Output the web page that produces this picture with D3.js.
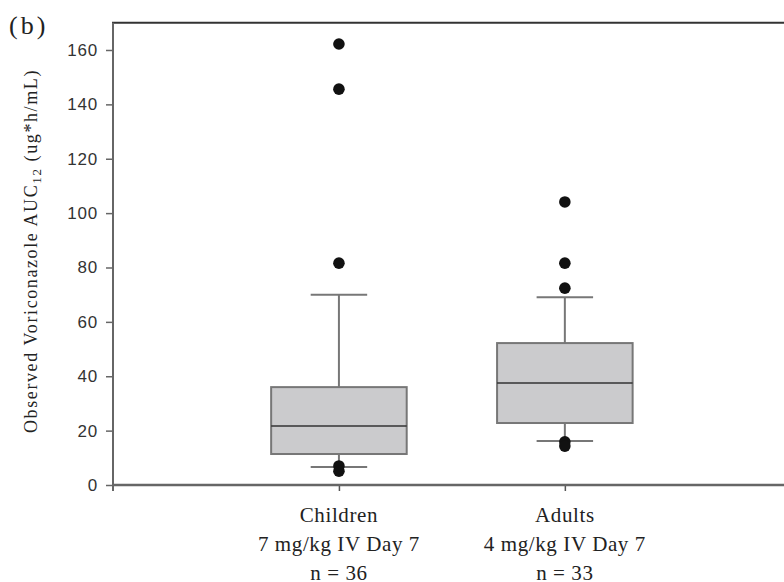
<!DOCTYPE html>
<html>
<head>
<meta charset="utf-8">
<script src="https://cdn.jsdelivr.net/npm/d3@7"></script>
<style>
  body { margin: 0; background: #fff; }
</style>
</head>
<body>
<div id="chart"></div>
<script>
// data
var groups = ["Children", "Adults"];
var groupLines = [
  ["Children", "7 mg/kg IV Day 7", "n = 36"],
  ["Adults", "4 mg/kg IV Day 7", "n = 33"]
];
var q1 = [11.4, 22.8];
var medians = [21.7, 37.5];
var q3 = [36.0, 52.2];
var whiskerLow = [6.6, 16.2];
var whiskerHigh = [70.0, 69.1];
var outliersChildren = [162.2, 145.6, 81.6, 7.0, 5.1];
var outliersAdults = [104.1, 81.6, 72.4, 15.9, 14.3];
var yTicks = [0, 20, 40, 60, 80, 100, 120, 140, 160];

var width = 784, height = 582;
var serif = "'Liberation Serif', 'DejaVu Serif', serif";
var sans = "'Liberation Sans', Arial, sans-serif";

var svg = d3.select("#chart")
  .append("svg")
    .attr("width", width)
    .attr("height", height);

// scales
var x = d3.scaleLinear().domain([0, 2.97]).range([113, 784]);
var y = d3.scaleLinear().domain([0, 170]).range([485, 22.8]);

var boxW = 0.6, capW = 0.125;

// ---- axes ----
// top border
svg.append("line")
  .attr("x1", 112).attr("x2", 784)
  .attr("y1", y(170)).attr("y2", y(170))
  .attr("stroke", "#333").attr("stroke-width", 2);

// left axis
var yAxis = svg.append("g")
  .attr("transform", "translate(113,0)")
  .call(d3.axisLeft(y).tickValues(yTicks).tickSize(7).tickPadding(8).tickSizeOuter(0));
yAxis.select(".domain").remove();
yAxis.append("line")
  .attr("x1", 0).attr("x2", 0)
  .attr("y1", y(170)).attr("y2", 491)
  .attr("stroke", "#666").attr("stroke-width", 2);
yAxis.selectAll(".tick line").attr("stroke", "#666").attr("stroke-width", 1.5);
yAxis.selectAll(".tick text")
  .attr("font-family", sans)
  .attr("font-size", 17)
  .attr("letter-spacing", 0.8)
  .attr("fill", "#333");

// bottom axis
var xAxis = svg.append("g")
  .attr("transform", "translate(0," + y(0) + ")")
  .call(d3.axisBottom(x).tickValues([1, 2]).tickSize(6).tickFormat("").tickSizeOuter(0));
xAxis.select(".domain").remove();
xAxis.append("line")
  .attr("x1", 113).attr("x2", 784)
  .attr("y1", 0).attr("y2", 0)
  .attr("stroke", "#666").attr("stroke-width", 2.5);
xAxis.selectAll(".tick line").attr("stroke", "#555").attr("stroke-width", 1.5);

// category labels
groupLines.forEach(function(lines, i) {
  var t = svg.append("text")
    .attr("x", x(i + 1))
    .attr("y", 522)
    .attr("text-anchor", "middle")
    .attr("font-family", serif)
    .attr("font-size", 21)
    .attr("letter-spacing", 0.6)
    .attr("fill", "#222");
  lines.forEach(function(l, j) {
    t.append("tspan")
      .attr("x", x(i + 1))
      .attr("dy", j === 0 ? 0 : 29)
      .text(l);
  });
});

// y label
var yl = svg.append("text")
  .attr("transform", "translate(37,251) rotate(-90)")
  .attr("text-anchor", "middle")
  .attr("font-family", serif)
  .attr("font-size", 18)
  .attr("letter-spacing", 1.6)
  .attr("fill", "#222");
yl.append("tspan").text("Observed Voriconazole AUC");
yl.append("tspan").attr("font-size", 13).attr("dy", 4).text("12");
yl.append("tspan").attr("dy", -4).text(" (ug*h/mL)");

// panel letter
svg.append("text")
  .attr("x", 9).attr("y", 34)
  .attr("font-family", serif)
  .attr("font-size", 26)
  .attr("letter-spacing", 3)
  .attr("fill", "#222")
  .text("(b)");

// ---- boxes ----
var boxes = groups.map(function(g, i) {
  return { name: g, pos: i + 1, q1: q1[i], med: medians[i], q3: q3[i], lo: whiskerLow[i], hi: whiskerHigh[i] };
});

var bx = svg.append("g");

// whiskers
bx.selectAll(".whi")
  .data(boxes).enter().append("line")
    .attr("x1", function(d) { return x(d.pos); })
    .attr("x2", function(d) { return x(d.pos); })
    .attr("y1", function(d) { return y(d.q3); })
    .attr("y2", function(d) { return y(d.hi); })
    .attr("stroke", "#777").attr("stroke-width", 2);
bx.selectAll(".wlo")
  .data(boxes).enter().append("line")
    .attr("x1", function(d) { return x(d.pos); })
    .attr("x2", function(d) { return x(d.pos); })
    .attr("y1", function(d) { return y(d.q1); })
    .attr("y2", function(d) { return y(d.lo); })
    .attr("stroke", "#777").attr("stroke-width", 2);
// caps
["hi", "lo"].forEach(function(k) {
  bx.selectAll(".cap-" + k)
    .data(boxes).enter().append("line")
      .attr("x1", function(d) { return x(d.pos - capW); })
      .attr("x2", function(d) { return x(d.pos + capW); })
      .attr("y1", function(d) { return y(d[k]); })
      .attr("y2", function(d) { return y(d[k]); })
      .attr("stroke", "#777").attr("stroke-width", 2);
});

// box
bx.selectAll("rect")
  .data(boxes).enter().append("rect")
    .attr("x", function(d) { return x(d.pos - boxW / 2); })
    .attr("width", function(d) { return x(d.pos + boxW / 2) - x(d.pos - boxW / 2); })
    .attr("y", function(d) { return y(d.q3); })
    .attr("height", function(d) { return y(d.q1) - y(d.q3); })
    .attr("fill", "#cbcbcd")
    .attr("stroke", "#777").attr("stroke-width", 2);

// median
bx.selectAll(".med")
  .data(boxes).enter().append("line")
    .attr("x1", function(d) { return x(d.pos - boxW / 2); })
    .attr("x2", function(d) { return x(d.pos + boxW / 2); })
    .attr("y1", function(d) { return y(d.med); })
    .attr("y2", function(d) { return y(d.med); })
    .attr("stroke", "#333").attr("stroke-width", 1.5);

// outliers
var pts = [];
outliersChildren.forEach(function(v) { pts.push({ pos: 1, v: v }); });
outliersAdults.forEach(function(v) { pts.push({ pos: 2, v: v }); });
bx.selectAll("circle")
  .data(pts).enter().append("circle")
    .attr("cx", function(d) { return x(d.pos); })
    .attr("cy", function(d) { return y(d.v); })
    .attr("r", 5.8)
    .attr("fill", "#111");
</script>
</body>
</html>
